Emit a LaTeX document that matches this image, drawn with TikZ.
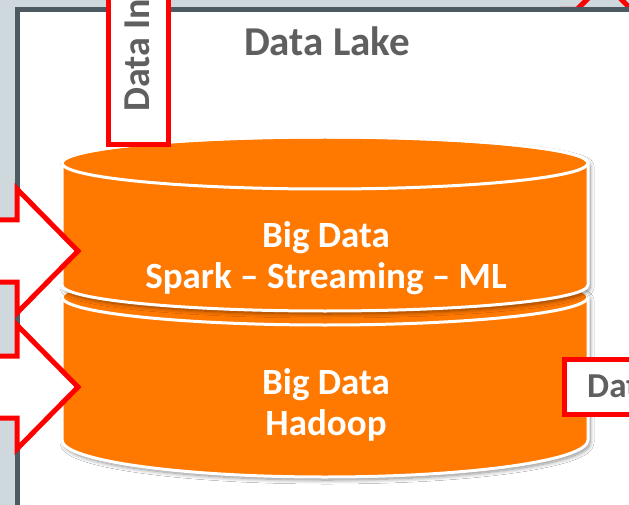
\documentclass[tikz,border=0pt]{standalone}
\usepackage{fontspec}
\setmainfont{Carlito}
\usepackage{tikz}
\usetikzlibrary{shadows.blur}
\definecolor{lakeorange}{RGB}{255,120,0}
\definecolor{lakered}{RGB}{255,0,0}
\definecolor{lakegray}{RGB}{95,95,95}
\definecolor{framegray}{RGB}{76,91,97}
\definecolor{lakebg}{RGB}{207,216,221}

\begin{document}
\begin{tikzpicture}[x=1pt,y=-1pt,line join=miter,
  redline/.style={draw=lakered,line width=5pt},
  lakedisk/.style={fill=lakeorange,draw=white,line width=3pt,
    blur shadow={shadow xshift=2pt,shadow yshift=-3pt,shadow blur radius=4pt,shadow blur steps=8,shadow opacity=45}},
  sidetext/.style={font=\bfseries\fontsize{35}{40}\selectfont,text=lakegray,inner sep=0pt},
  disktext/.style={font=\bfseries\fontsize{37}{41}\selectfont,text=white,align=center,inner sep=0pt}]
\useasboundingbox (0,0) rectangle (629,505);
\clip (0,0) rectangle (629,505);
\fill[lakebg] (0,0) rectangle (629,505);
\fill[white] (17.5,9.5) rectangle (650,520);
% arrow going out at the top
\draw[redline] (560,9.5) -- (577,9.5) -- (604,-17.5) -- (631.5,9.5) -- (650,9.5);
\draw[framegray,line width=5pt] (17.5,520) -- (17.5,9.5) -- (650,9.5);
\node[sidetext,font=\bfseries\fontsize{41}{46}\selectfont] (lake) at (327,41) {Data Lake};
% the two disks
\path[lakedisk] (62,297) -- (62,440) arc[start angle=180,end angle=0,x radius=263,y radius=37]
  -- (588,297) arc[start angle=0,end angle=-180,x radius=263,y radius=28] -- cycle;
\draw[white,line width=3pt] (62,297) arc[start angle=180,end angle=0,x radius=263,y radius=28];
\path[lakedisk] (62,163) -- (62,285) arc[start angle=180,end angle=0,x radius=263,y radius=26]
  -- (588,163) arc[start angle=0,end angle=-180,x radius=263,y radius=26] -- cycle;
\draw[white,line width=3pt] (325,163) ellipse[x radius=263,y radius=26];
\node[disktext] (spark) at (326,258) {Big Data\\Spark – Streaming – ML};
\node[disktext] (hadoop) at (326,405) {Big Data\\Hadoop};
% arrows coming in from the left
\draw[redline,fill=white] (-10,220) -- (17,220) -- (17,189) -- (78,251) -- (17,313) -- (17,282) -- (-10,282) -- cycle;
\draw[redline,fill=white] (-10,356) -- (17,356) -- (17,325) -- (78,387) -- (17,449) -- (17,418) -- (-10,418) -- cycle;
% side boxes
\draw[redline,fill=white] (108.5,-10) rectangle (168.5,145);
\node[sidetext,font=\bfseries\fontsize{38}{44}\selectfont,rotate=90,anchor=west] (datain) at (137.5,112) {Data In};
\draw[redline,fill=white] (564.5,359.5) rectangle (650,414.5);
\node[sidetext,anchor=west] (dataout) at (587,386) {Data};
\end{tikzpicture}
\end{document}
